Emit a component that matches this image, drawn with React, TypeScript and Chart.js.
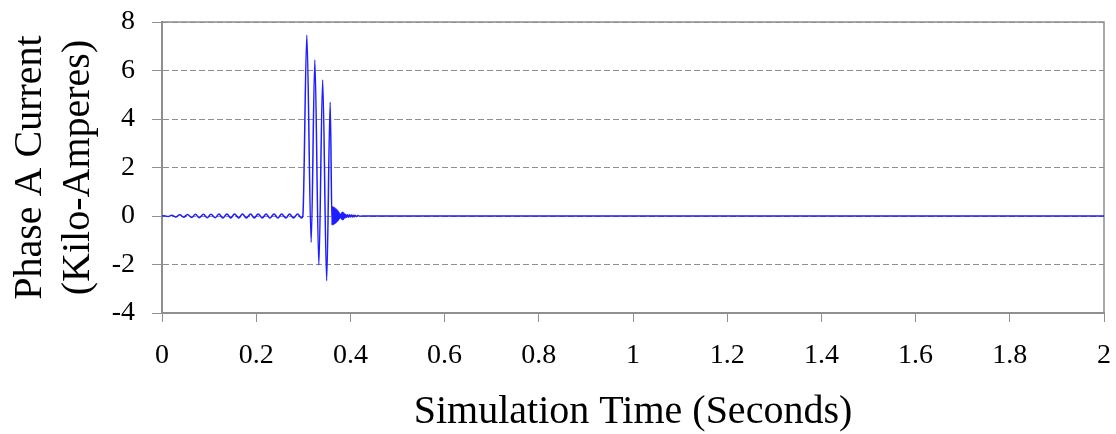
import React, { useEffect, useRef } from "react";
import { Chart, registerables } from "chart.js";

Chart.register(...registerables);

// ---- data ----
// pre-fault 60 Hz ripple (seconds, kA)
const preFaultTime = [
  0, 0.004, 0.013, 0.021, 0.029, 0.038, 0.046, 0.054, 0.063, 0.071, 0.079, 0.088,
  0.096, 0.104, 0.113, 0.121, 0.129, 0.138, 0.146, 0.154, 0.163, 0.171, 0.179,
  0.188, 0.196, 0.204, 0.213, 0.221, 0.229, 0.238, 0.246, 0.254, 0.263, 0.271,
  0.279, 0.288, 0.296,
];
const preFaultCurrent = [
  0, 0.01, -0.02, 0.03, -0.04, 0.05, -0.05, 0.06, -0.06, 0.07, -0.07, 0.07,
  -0.07, 0.07, -0.07, 0.08, -0.08, 0.08, -0.08, 0.08, -0.08, 0.08, -0.08,
  0.08, -0.08, 0.08, -0.08, 0.08, -0.08, 0.08, -0.08, 0.08, -0.08, 0.08,
  -0.08, 0.08, -0.08,
];
// fault current peaks and troughs
const faultTime = [0.299, 0.3075, 0.3167, 0.3245, 0.333, 0.3411, 0.3496, 0.3571];
const faultCurrent = [0, 7.46, -1.08, 6.43, -2.02, 5.61, -2.67, 4.69];
// high-frequency ringing after clearing, then flat
const ringTime = [
  0.361, 0.362, 0.363, 0.364, 0.365, 0.366, 0.367, 0.368, 0.369, 0.37, 0.371,
  0.372, 0.373, 0.374, 0.375, 0.376, 0.377, 0.378, 0.379, 0.38, 0.381, 0.382,
  0.383, 0.384, 0.385, 0.386, 0.387, 0.388, 0.389, 0.39, 0.392, 0.394, 0.396,
  0.398, 0.4, 0.402, 0.404, 0.406, 0.408, 0.41, 0.413, 0.416, 0.42, 0.425, 2.0,
];
const ringCurrent = [
  -0.37, 0.38, -0.36, 0.37, -0.34, 0.35, -0.32, 0.32, -0.29, 0.29, -0.25,
  0.25, -0.21, 0.2, -0.16, 0.14, -0.1, 0.07, -0.06, 0.09, -0.12, 0.14,
  -0.15, 0.15, -0.14, 0.12, -0.1, 0.08, -0.07, 0.06, -0.05, 0.05, -0.05,
  0.05, -0.04, 0.04, -0.04, 0.03, -0.03, 0.03, -0.02, 0.02, -0.01, 0, 0,
];

const xTickLabels = ["0", "0.2", "0.4", "0.6", "0.8", "1", "1.2", "1.4", "1.6", "1.8", "2"];
const yTickLabels = ["-4", "-2", "0", "2", "4", "6", "8"];

const xTitle = "Simulation Time (Seconds)";
const yTitle = ["Phase A Current", "(Kilo-Amperes)"];

const allTime = [...preFaultTime, ...faultTime, ...ringTime];
const allCurrent = [...preFaultCurrent, ...faultCurrent, ...ringCurrent];

const W = 1116;
const H = 434;
const AREA_LEFT = 162;
const AREA_BOTTOM = 313;
const AXIS_GRAY = "#8f8f8f";

const frame = {
  id: "frame",
  beforeDatasetsDraw(chart: any) {
    const { ctx, chartArea } = chart;
    ctx.save();
    ctx.strokeStyle = AXIS_GRAY;
    ctx.lineWidth = 1.5;
    ctx.setLineDash([]);
    ctx.beginPath();
    ctx.moveTo(chartArea.left, chartArea.top);
    ctx.lineTo(chartArea.right, chartArea.top);
    ctx.lineTo(chartArea.right, chartArea.bottom);
    ctx.stroke();
    ctx.restore();
  },
};

export default function App() {
  const ref = useRef<HTMLCanvasElement>(null);

  useEffect(() => {
    if (!ref.current) return;
    const points = allTime.map((t, i) => ({ x: t, y: allCurrent[i] }));
    const chart = new Chart(ref.current, {
      type: "scatter",
      data: {
        datasets: [
          {
            data: points,
            showLine: true,
            borderColor: "#1e1eff",
            borderWidth: 1.5,
            pointRadius: 0,
            cubicInterpolationMode: "monotone",
          },
        ],
      },
      options: {
        animation: false,
        responsive: false,
        devicePixelRatio: 1,
        layout: { padding: { left: 0, top: 22, right: 12, bottom: 0 } },
        plugins: { legend: { display: false }, tooltip: { enabled: false } },
        scales: {
          x: {
            type: "linear",
            min: 0,
            max: 2,
            afterFit: (s: any) => {
              s.height = H - AREA_BOTTOM;
              s.paddingLeft = 0;
              s.paddingRight = 0;
            },
            ticks: {
              stepSize: 0.2,
              maxRotation: 0,
              autoSkip: false,
              padding: 17,
              color: "#000",
              font: { family: "'Liberation Serif', 'Times New Roman', serif", size: 28 },
              callback: (_v: any, i: number) => xTickLabels[i],
            },
            grid: {
              display: true,
              drawOnChartArea: false,
              drawTicks: true,
              tickLength: 9,
              color: AXIS_GRAY,
              lineWidth: 1,
            },
            border: { display: true, color: AXIS_GRAY, width: 2 },
            title: {
              display: true,
              text: xTitle,
              color: "#000",
              font: { family: "'Liberation Serif', 'Times New Roman', serif", size: 40, lineHeight: 1.0 },
              padding: { top: 0, bottom: 2 },
            },
          },
          y: {
            type: "linear",
            min: -4,
            max: 8,
            afterFit: (s: any) => {
              s.width = AREA_LEFT;
              s.paddingTop = 0;
              s.paddingBottom = 0;
            },
            ticks: {
              stepSize: 2,
              padding: 17,
              color: "#000",
              font: { family: "'Liberation Serif', 'Times New Roman', serif", size: 28 },
              callback: (_v: any, i: number) => yTickLabels[i],
            },
            grid: {
              display: true,
              drawOnChartArea: true,
              drawTicks: true,
              tickLength: 10,
              color: AXIS_GRAY,
              lineWidth: 1,
              tickColor: AXIS_GRAY,
            },
            border: { display: true, color: AXIS_GRAY, width: 2, dash: [6, 3] },
            title: {
              display: true,
              text: yTitle,
              color: "#000",
              font: { family: "'Liberation Serif', 'Times New Roman', serif", size: 40, lineHeight: 1.2 },
              padding: { top: 6, bottom: 0 },
            },
          },
        },
      },
      plugins: [frame],
    } as any);
    return () => chart.destroy();
  }, []);

  return (
    <div style={{ position: "absolute", left: 0, top: 0, width: W, height: H, background: "#fff" }}>
      <canvas ref={ref} width={W} height={H} style={{ display: "block", width: W, height: H }} />
    </div>
  );
}
